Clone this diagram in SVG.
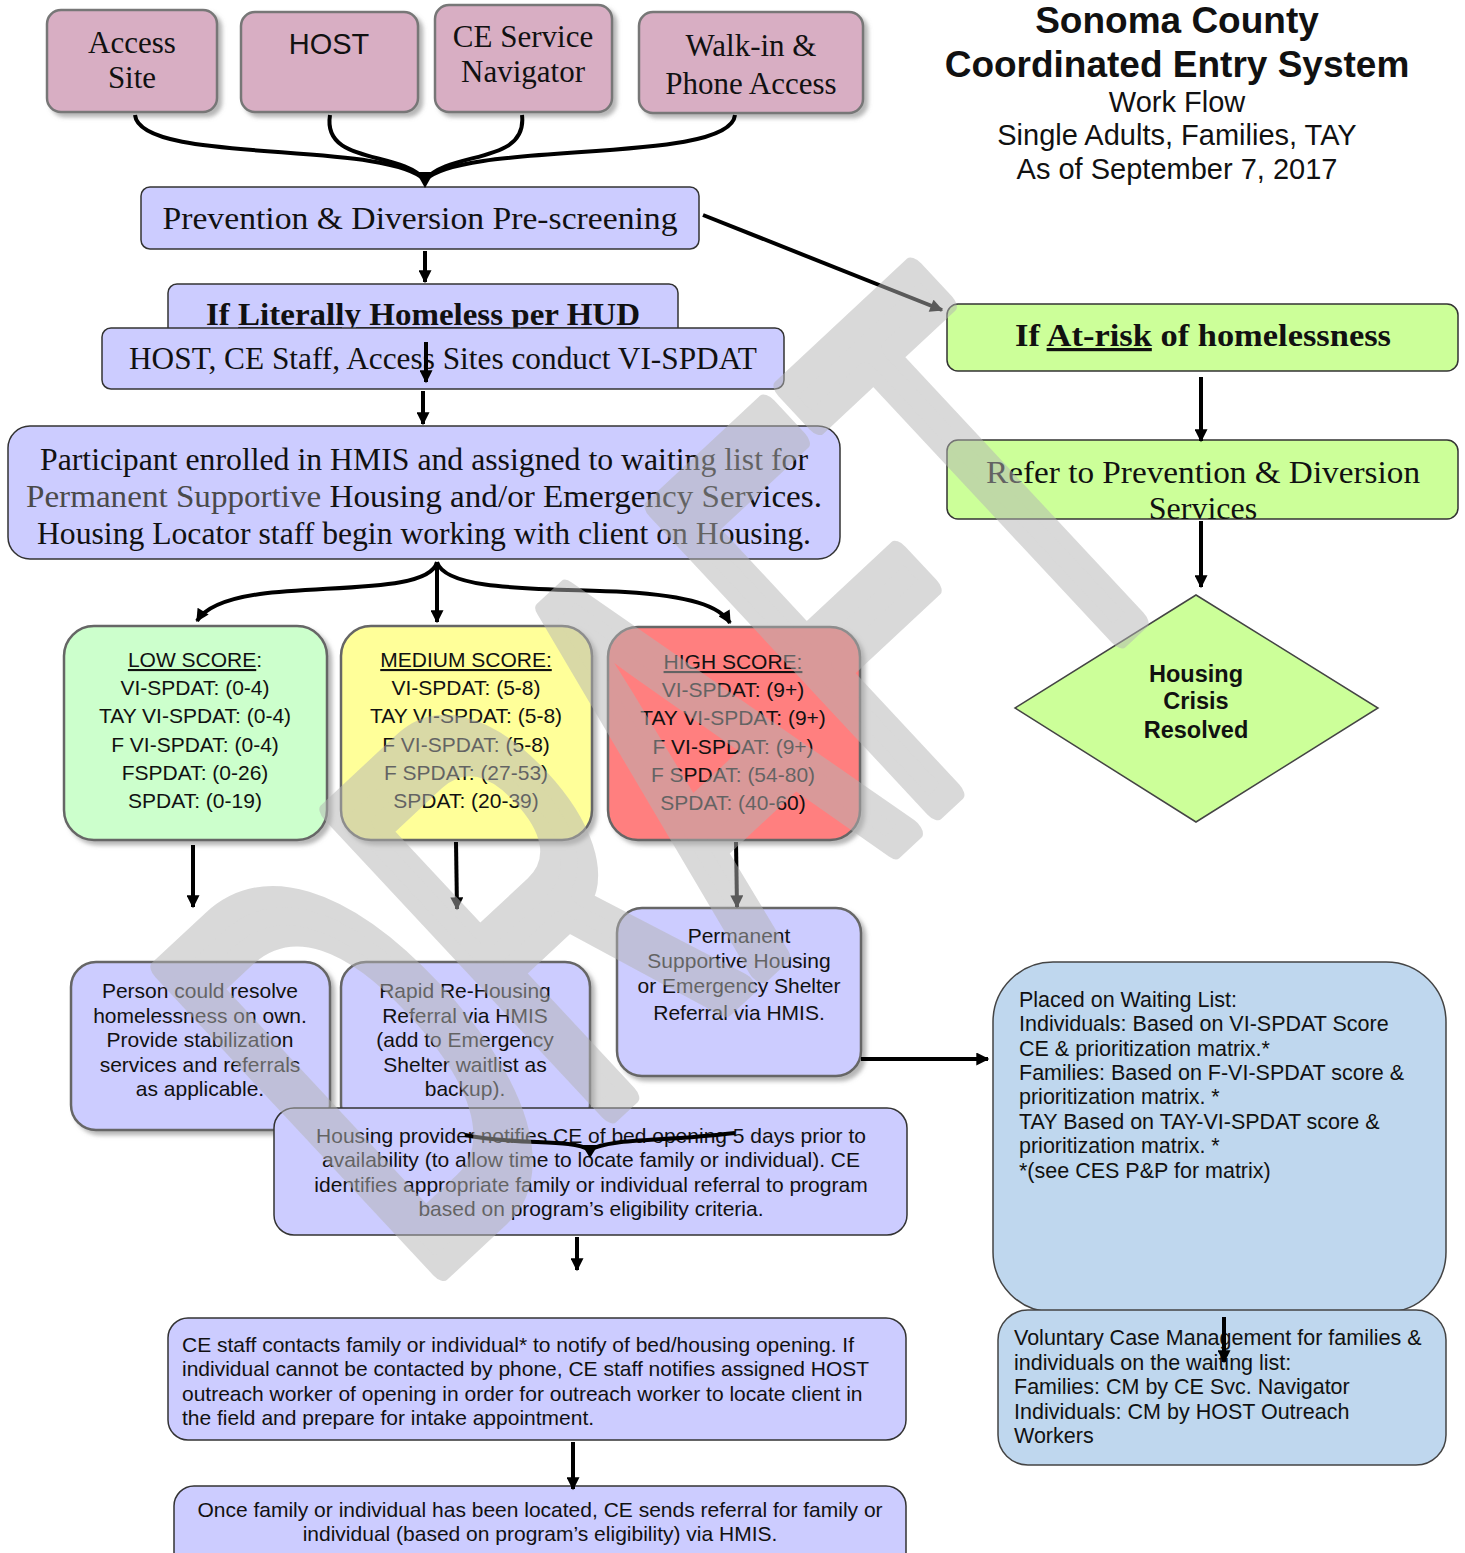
<svg xmlns="http://www.w3.org/2000/svg" width="1465" height="1553" viewBox="0 0 1465 1553">
<defs>
<filter id="sh" x="-10%" y="-10%" width="130%" height="130%">
<feDropShadow dx="4" dy="4" stdDeviation="2" flood-color="#7a7a7a" flood-opacity="0.55"/>
</filter>
<marker id="ah" viewBox="0 0 10 10" refX="9" refY="5" markerWidth="15" markerHeight="13" markerUnits="userSpaceOnUse" orient="auto">
<path d="M0,0 L10,5 L0,10 z" fill="#000"/>
</marker>
</defs>
<style>
.pink{fill:#d8aec3;stroke:#777;stroke-width:2.5}
.blue{fill:#ccccff;stroke:#333;stroke-width:1.5}
.blueg{fill:#ccccff;stroke:#666;stroke-width:2.5}
.grn{fill:#ccff99;stroke:#333;stroke-width:1.5}
.lb{fill:#bfd7ee;stroke:#444;stroke-width:1.5}
.serif{font-family:"Liberation Serif","DejaVu Serif",serif;fill:#111}
.sans{font-family:"Liberation Sans",Arial,sans-serif;fill:#111}
.c{text-anchor:middle}
.s21{font-size:21px}
.s32{font-size:32px}
.u{text-decoration:underline}
.ln{fill:none;stroke:#000;stroke-width:4}
.ar{fill:none;stroke:#000;stroke-width:4;marker-end:url(#ah)}
</style>
<rect width="1465" height="1553" fill="#fff"/>

<g id="title" class="sans c">
<text x="1177" y="33" font-size="37" font-weight="bold">Sonoma County</text>
<text x="1177" y="77" font-size="37" font-weight="bold">Coordinated Entry System</text>
<text x="1177" y="112" font-size="29">Work Flow</text>
<text x="1177" y="145" font-size="29">Single Adults, Families, TAY</text>
<text x="1177" y="179" font-size="29">As of September 7, 2017</text>
</g>

<g id="access-site">
<rect x="47" y="10" width="170" height="102" rx="14" class="pink" filter="url(#sh)"/>
<text class="serif c" font-size="31" x="132" y="53">Access</text>
<text class="serif c" font-size="31" x="132" y="88">Site</text>
</g>
<g id="host">
<rect x="241" y="12" width="177" height="100" rx="14" class="pink" filter="url(#sh)"/>
<text class="sans c" font-size="29" x="329" y="54">HOST</text>
</g>
<g id="ce-nav">
<rect x="435" y="5" width="177" height="107" rx="14" class="pink" filter="url(#sh)"/>
<text class="serif c" font-size="31" x="523" y="47">CE Service</text>
<text class="serif c" font-size="31" x="523" y="82">Navigator</text>
</g>
<g id="walkin">
<rect x="639" y="12" width="224" height="101" rx="14" class="pink" filter="url(#sh)"/>
<text class="serif c" font-size="31" x="751" y="56">Walk-in &amp;</text>
<text class="serif c" font-size="31" x="751" y="94">Phone Access</text>
</g>

<g id="prescreen">
<rect x="141" y="187" width="558" height="62" rx="9" class="blue"/>
<text class="serif c s32" x="420" y="229" textLength="515" lengthAdjust="spacingAndGlyphs">Prevention &amp; Diversion Pre-screening</text>
</g>

<g id="literally">
<rect x="168" y="284" width="510" height="60" rx="9" class="blue"/>
<text class="serif c s32" font-weight="bold" x="423" y="325" textLength="434" lengthAdjust="spacingAndGlyphs">If <tspan class="u">Literally Homeless per HUD</tspan></text>
</g>
<g id="conduct">
<rect x="102" y="328" width="682" height="61" rx="9" class="blue"/>
<text class="serif c s32" x="443" y="369" textLength="628" lengthAdjust="spacingAndGlyphs">HOST, CE Staff, Access Sites conduct VI-SPDAT</text>
</g>

<g id="participant">
<rect x="8" y="426" width="832" height="133" rx="22" class="blue"/>
<text class="serif c s32" x="424" y="470" textLength="768" lengthAdjust="spacingAndGlyphs">Participant enrolled in HMIS and assigned to waiting list for</text>
<text class="serif c s32" x="424" y="507" textLength="796" lengthAdjust="spacingAndGlyphs"><tspan fill="#4a4a4a">Permanent Supportive</tspan> Housing and/or Emergency Services.</text>
<text class="serif c s32" x="424" y="544" textLength="774" lengthAdjust="spacingAndGlyphs">Housing Locator staff begin working with client on Housing.</text>
</g>

<g id="atrisk">
<rect x="947" y="304" width="511" height="67" rx="11" class="grn"/>
<text class="serif c s32" font-weight="bold" x="1203" y="346" textLength="376" lengthAdjust="spacingAndGlyphs">If <tspan class="u">At-risk</tspan> of homelessness</text>
</g>
<g id="refer">
<rect x="947" y="440" width="511" height="79" rx="11" class="grn"/>
<text class="serif c s32" x="1203" y="483" textLength="434" lengthAdjust="spacingAndGlyphs">Refer to Prevention &amp; Diversion</text>
<text class="serif c s32" x="1203" y="519">Services</text>
</g>
<g id="resolved">
<polygon points="1196,595 1378,708 1196,822 1015,708" fill="#ccff99" stroke="#444" stroke-width="1.5"/>
<text class="sans c" font-size="23.5" font-weight="bold" x="1196" y="682">Housing</text>
<text class="sans c" font-size="23.5" font-weight="bold" x="1196" y="709">Crisis</text>
<text class="sans c" font-size="23.5" font-weight="bold" x="1196" y="738">Resolved</text>
</g>

<g id="low" class="sans c s21">
<rect x="64" y="626" width="263" height="214" rx="30" fill="#ccffcc" stroke="#666" stroke-width="2.5" filter="url(#sh)"/>
<text x="195" y="667"><tspan class="u">LOW SCORE</tspan>:</text>
<text x="195" y="695">VI-SPDAT: (0-4)</text>
<text x="195" y="723">TAY VI-SPDAT: (0-4)</text>
<text x="195" y="752">F VI-SPDAT: (0-4)</text>
<text x="195" y="780">FSPDAT: (0-26)</text>
<text x="195" y="808">SPDAT: (0-19)</text>
</g>
<g id="medium" class="sans c s21">
<rect x="341" y="626" width="251" height="214" rx="30" fill="#ffff99" stroke="#666" stroke-width="2.5" filter="url(#sh)"/>
<text x="466" y="667" class="u">MEDIUM SCORE:</text>
<text x="466" y="695">VI-SPDAT: (5-8)</text>
<text x="466" y="723">TAY VI-SPDAT: (5-8)</text>
<text x="466" y="752">F VI-SPDAT: (5-8)</text>
<text x="466" y="780">F SPDAT: (27-53)</text>
<text x="466" y="808">SPDAT: (20-39)</text>
</g>
<g id="high" class="sans c s21">
<rect x="608" y="627" width="252" height="213" rx="30" fill="#ff7f7f" stroke="#666" stroke-width="2.5" filter="url(#sh)"/>
<text x="733" y="669" class="u">HIGH SCORE:</text>
<text x="733" y="697">VI-SPDAT: (9+)</text>
<text x="733" y="725">TAY VI-SPDAT: (9+)</text>
<text x="733" y="754">F VI-SPDAT: (9+)</text>
<text x="733" y="782">F SPDAT: (54-80)</text>
<text x="733" y="810">SPDAT: (40-60)</text>
</g>

<g id="resolve-own" class="sans c s21">
<rect x="71" y="962" width="259" height="168" rx="25" class="blueg" filter="url(#sh)"/>
<text x="200" y="998">Person could resolve</text>
<text x="200" y="1023">homelessness on own.</text>
<text x="200" y="1047">Provide stabilization</text>
<text x="200" y="1072">services and referrals</text>
<text x="200" y="1096">as applicable.</text>
</g>
<g id="rrh" class="sans c s21">
<rect x="341" y="962" width="249" height="168" rx="25" class="blueg" filter="url(#sh)"/>
<text x="465" y="998">Rapid Re-Housing</text>
<text x="465" y="1023">Referral via HMIS</text>
<text x="465" y="1047">(add to Emergency</text>
<text x="465" y="1072">Shelter waitlist as</text>
<text x="465" y="1096">backup).</text>
</g>
<g id="psh" class="sans c s21">
<rect x="617" y="908" width="244" height="168" rx="25" class="blueg" filter="url(#sh)"/>
<text x="739" y="943">Permanent</text>
<text x="739" y="968">Supportive Housing</text>
<text x="739" y="993">or Emergency Shelter</text>
<text x="739" y="1020">Referral via HMIS.</text>
</g>

<g id="provider" class="sans c s21">
<rect x="274" y="1108" width="633" height="127" rx="20" class="blue"/>
<text x="591" y="1143">Housing provider notifies CE of bed opening 5 days prior to</text>
<text x="591" y="1167">availability (to allow time to locate family or individual). CE</text>
<text x="591" y="1192">identifies appropriate family or individual referral to program</text>
<text x="591" y="1216">based on program’s eligibility criteria.</text>
</g>
<g id="contact" class="sans s21">
<rect x="168" y="1318" width="738" height="122" rx="20" class="blue"/>
<text x="182" y="1352">CE staff contacts family or individual* to notify of bed/housing opening. If</text>
<text x="182" y="1376">individual cannot be contacted by phone, CE staff notifies assigned HOST</text>
<text x="182" y="1401">outreach worker of opening in order for outreach worker to locate client in</text>
<text x="182" y="1425">the field and prepare for intake appointment.</text>
</g>
<g id="located" class="sans c s21">
<rect x="174" y="1486" width="732" height="90" rx="20" class="blue"/>
<text x="540" y="1517">Once family or individual has been located, CE sends referral for family or</text>
<text x="540" y="1541">individual (based on program’s eligibility) via HMIS.</text>
</g>

<g id="waiting" class="sans" font-size="21.5">
<rect x="993" y="962" width="453" height="350" rx="60" class="lb"/>
<text x="1019" y="1007">Placed on Waiting List:</text>
<text x="1019" y="1031">Individuals: Based on VI-SPDAT Score</text>
<text x="1019" y="1056">CE &amp; prioritization matrix.*</text>
<text x="1019" y="1080">Families: Based on F-VI-SPDAT score &amp;</text>
<text x="1019" y="1104">prioritization matrix. *</text>
<text x="1019" y="1129">TAY Based on TAY-VI-SPDAT score &amp;</text>
<text x="1019" y="1153">prioritization matrix. *</text>
<text x="1019" y="1178">*(see CES P&amp;P for matrix)</text>
</g>
<g id="casemgmt" class="sans" font-size="21.5">
<rect x="998" y="1310" width="448" height="155" rx="30" class="lb"/>
<text x="1014" y="1345">Voluntary Case Management for families &amp;</text>
<text x="1014" y="1370">individuals on the waiting list:</text>
<text x="1014" y="1394">Families: CM by CE Svc. Navigator</text>
<text x="1014" y="1419">Individuals: CM by HOST Outreach</text>
<text x="1014" y="1443">Workers</text>
</g>

<g id="connectors">
<path class="ln" d="M135,115 C140,165 385,140 425,180"/>
<path class="ln" d="M330,115 C322,165 400,150 425,180"/>
<path class="ln" d="M522,115 C528,165 450,150 425,180"/>
<path class="ln" d="M735,115 C730,165 465,140 425,180"/>
<polygon points="416,172 434,172 425,188" fill="#000"/>
<path class="ar" d="M425,251 L425,282"/>
<path class="ar" d="M426,342 L426,382"/>
<path class="ar" d="M423,391 L423,424"/>
<path class="ar" d="M703,215 L942,310"/>
<path class="ar" d="M1201,377 L1201,441"/>
<path class="ar" d="M1201,521 L1201,587"/>
<path class="ar" d="M437,562 C430,592 330,585 260,594 C225,599 205,608 197,621"/>
<path class="ar" d="M437,562 L437,622"/>
<path class="ar" d="M437,562 C446,592 545,588 625,592 C690,596 720,606 730,623"/>
<path class="ar" d="M193,845 L193,907"/>
<path class="ar" d="M456,842 L457,909"/>
<path class="ar" d="M736,842 L737,907"/>
<path class="ar" d="M861,1059 L988,1059"/>
<path class="ln" d="M465,1135 C520,1146 570,1138 590,1150"/>
<path class="ln" d="M735,1133 C660,1142 610,1138 590,1150"/>
<polygon points="582,1145 598,1145 590,1158" fill="#000"/>
<path class="ar" d="M577,1237 L577,1270"/>
<path class="ar" d="M573,1442 L573,1489"/>
<path class="ar" d="M1224,1317 L1224,1362"/>
</g>

<g id="watermark" opacity="0.5" transform="translate(664,769) rotate(-43)">
<text x="0" y="115" transform="scale(1,1.85)" text-anchor="middle" font-family="Liberation Sans, Arial, sans-serif" font-size="320" fill="#b4b4b4" stroke="#b4b4b4" stroke-width="14" stroke-linejoin="round">DRAFT</text>
</g>
</svg>
